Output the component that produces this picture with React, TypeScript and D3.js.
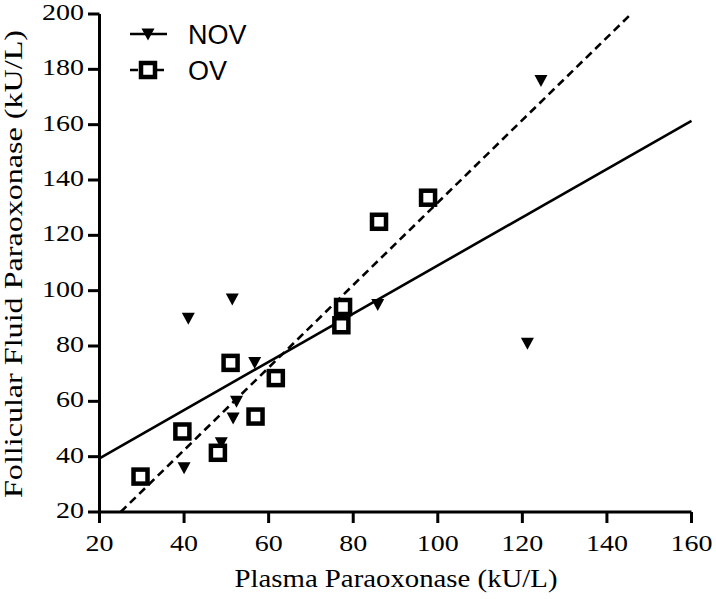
import React from "react";
import * as d3 from "d3";

const novX = [40, 41, 48.8, 51.4, 51.6, 52.4, 56.7, 85.8, 121.2, 124.4];
const novY = [36, 90, 45, 97, 54, 60, 74, 95, 81, 176];
const ovX = [29.7, 39.6, 48, 51, 56.9, 61.7, 77.2, 77.6, 86.1, 97.7];
const ovY = [32.8, 49.1, 41.4, 73.9, 54.5, 68.4, 87.5, 94.1, 124.9, 133.6];
const novFitX = [20, 160];
const novFitY = [39.4, 161.4];
const ovFitX = [25, 145.7];
const ovFitY = [20, 200];
const xTicks = [20, 40, 60, 80, 100, 120, 140, 160];
const yTicks = [20, 40, 60, 80, 100, 120, 140, 160, 180, 200];
const xTitle = "Plasma Paraoxonase (kU/L)";
const yTitle = "Follicular Fluid Paraoxonase (kU/L)";
const legendLabels = ["NOV", "OV"];

export default function App() {
  const x = d3.scaleLinear().domain([20, 160]).range([99.5, 691.5]);
  const y = d3.scaleLinear().domain([20, 200]).range([512, 14]);
  const line = d3
    .line<[number, number]>()
    .x((d) => x(d[0]))
    .y((d) => y(d[1]));
  const tri = "M-6.5,-5.5L6.5,-5.5L0,6.5Z";
  const serif = "'Liberation Serif', 'Times New Roman', serif";
  const sans = "'Liberation Sans', Arial, sans-serif";
  const novFit = novFitX.map((v, i) => [v, novFitY[i]] as [number, number]);
  const ovFit = ovFitX.map((v, i) => [v, ovFitY[i]] as [number, number]);
  return (
    <svg
      width={716}
      height={599}
      style={{ position: "absolute", left: 0, top: 0, background: "#fff" }}
    >
      {/* fit lines */}
      <path d={line(novFit) || ""} fill="none" stroke="#000" strokeWidth={2.6} />
      <path
        d={line(ovFit) || ""}
        fill="none"
        stroke="#000"
        strokeWidth={2.6}
        strokeDasharray="8,5"
      />
      {/* NOV markers */}
      {novX.map((v, i) => (
        <path key={"n" + i} d={tri} transform={`translate(${x(v)},${y(novY[i])})`} fill="#000" />
      ))}
      {/* OV markers */}
      {ovX.map((v, i) => (
        <rect
          key={"o" + i}
          x={x(v) - 7}
          y={y(ovY[i]) - 7}
          width={14}
          height={14}
          fill="#fff"
          stroke="#000"
          strokeWidth={4.5}
        />
      ))}
      {/* axes */}
      <line x1={99.5} x2={99.5} y1={y(200)} y2={513.5} stroke="#000" strokeWidth={3} />
      <line x1={98} x2={691.5} y1={512} y2={512} stroke="#000" strokeWidth={3} />
      {yTicks.map((t) => (
        <g key={"y" + t}>
          <line x1={88} x2={99.5} y1={y(t)} y2={y(t)} stroke="#000" strokeWidth={3} />
          <text
            x={84}
            y={y(t) + 6}
            textAnchor="end"
            fontFamily={serif}
            fontSize={24}
            textLength={String(t).length * 14}
            lengthAdjust="spacingAndGlyphs"
          >
            {t}
          </text>
        </g>
      ))}
      {xTicks.map((t) => (
        <g key={"x" + t}>
          <line x1={x(t)} x2={x(t)} y1={512} y2={523} stroke="#000" strokeWidth={3} />
          <text
            x={x(t)}
            y={551}
            textAnchor="middle"
            fontFamily={serif}
            fontSize={24}
            textLength={String(t).length * 14}
            lengthAdjust="spacingAndGlyphs"
          >
            {t}
          </text>
        </g>
      ))}
      <text
        x={396}
        y={587}
        textAnchor="middle"
        fontFamily={serif}
        fontSize={26}
        textLength={323}
        lengthAdjust="spacingAndGlyphs"
      >
        {xTitle}
      </text>
      <text
        transform="translate(22,264) rotate(-90)"
        textAnchor="middle"
        fontFamily={serif}
        fontSize={25}
        textLength={468}
        lengthAdjust="spacingAndGlyphs"
      >
        {yTitle}
      </text>
      {/* legend */}
      <line x1={130} x2={167} y1={34} y2={34} stroke="#000" strokeWidth={2.6} />
      <path d={tri} transform="translate(148,34)" fill="#000" />
      <text x={188} y={44} fontFamily={sans} fontSize={27}>
        {legendLabels[0]}
      </text>
      <line
        x1={130}
        x2={167}
        y1={70}
        y2={70}
        stroke="#000"
        strokeWidth={2.6}
        strokeDasharray="8,5"
      />
      <rect x={141} y={63} width={14} height={14} fill="#fff" stroke="#000" strokeWidth={4.5} />
      <text x={188} y={80} fontFamily={sans} fontSize={27}>
        {legendLabels[1]}
      </text>
    </svg>
  );
}
